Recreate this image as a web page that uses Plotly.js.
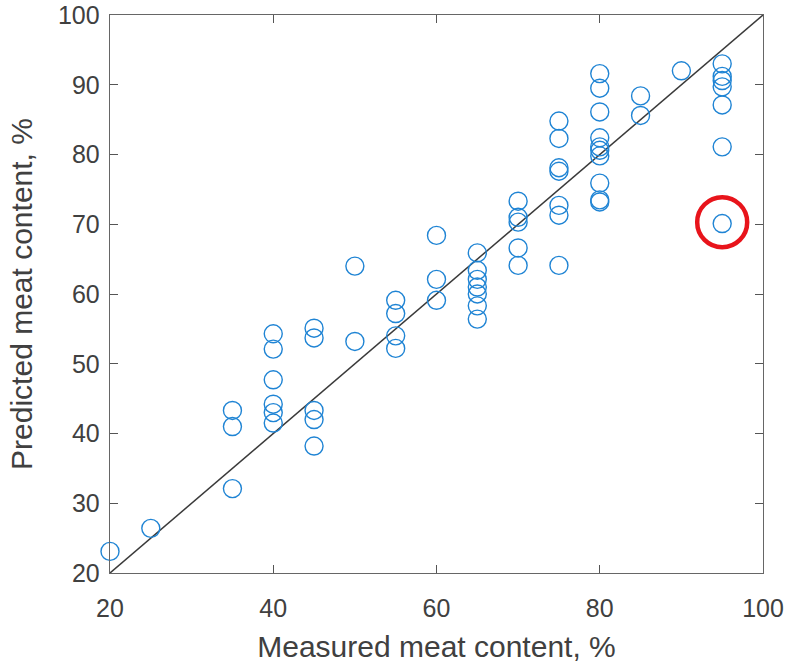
<!DOCTYPE html>
<html>
<head>
<meta charset="utf-8">
<script src="https://cdn.plot.ly/plotly-3.0.1.min.js"></script>
<style>html,body{margin:0;padding:0;background:#fff;}#chart{width:786px;height:663px;}</style>
</head>
<body>
<div id="chart"></div>
<script>
// Measured (x) and predicted (y) meat content, %
const measured = [
  20, 25,
  35, 35, 35,
  40, 40, 40, 40, 40, 40,
  45, 45, 45, 45, 45,
  50, 50,
  55, 55, 55, 55,
  60, 60, 60,
  65, 65, 65, 65, 65, 65, 65,
  70, 70, 70, 70, 70,
  75, 75, 75, 75, 75, 75, 75,
  80, 80, 80, 80, 80, 80, 80, 80, 80, 80,
  85, 85,
  90,
  95, 95, 95, 95, 95, 95, 95
];
const predicted = [
  23.1, 26.4,
  43.3, 41.0, 32.1,
  54.3, 52.1, 47.7, 44.2, 43.0, 41.5,
  55.1, 53.7, 43.3, 42.0, 38.2,
  64.0, 53.2,
  59.1, 57.2, 54.0, 52.2,
  68.4, 62.1, 59.1,
  65.9, 63.4, 62.1, 61.0, 60.0, 58.3, 56.4,
  73.3, 71.0, 70.3, 66.6, 64.1,
  84.8, 82.3, 78.1, 77.6, 72.7, 71.3, 64.1,
  91.6, 89.5, 86.1, 82.4, 81.1, 80.6, 79.8, 75.9, 73.5, 73.2,
  88.4, 85.6,
  92.0,
  93.0, 91.2, 90.6, 89.7, 87.1, 81.1, 70.1
];
// 1:1 reference line
const lineX = [20, 100];
const lineY = [20, 100];
// Highlighted outlier
const outlierX = [95];
const outlierY = [70.3];

const tickVals = [20, 30, 40, 50, 60, 70, 80, 90, 100];
const xTickVals = [20, 40, 60, 80, 100];

const traces = [
  {x: lineX, y: lineY, mode: 'lines', type: 'scatter',
   line: {color: '#3a3a3a', width: 1.5}, hoverinfo: 'skip'},
  {x: measured, y: predicted, mode: 'markers', type: 'scatter', cliponaxis: false,
   marker: {symbol: 'circle-open', size: 18, color: '#1f84d4', line: {width: 1.4, color: '#1f84d4'}}},
  {x: outlierX, y: outlierY, mode: 'markers', type: 'scatter', cliponaxis: false,
   marker: {symbol: 'circle-open', size: 50, color: '#e8141b', line: {width: 4.5, color: '#e8141b'}}}
];

const fontFam = '"Liberation Sans", Arial, sans-serif';
const txtCol = '#404040';
const layout = {
  width: 786, height: 663,
  margin: {l: 110, r: 23, t: 15, b: 90},
  paper_bgcolor: '#ffffff', plot_bgcolor: '#ffffff',
  showlegend: false,
  font: {family: fontFam, color: txtCol, size: 25},
  xaxis: {
    range: [20, 100], tickvals: xTickVals, ticktext: xTickVals.map(String),
    ticks: 'inside', ticklen: 8, tickwidth: 1, tickcolor: '#555',
    ticklabelstandoff: 13,
    showgrid: false, zeroline: false,
    showline: true, linecolor: '#666', linewidth: 1.3, mirror: 'ticks',
    tickfont: {size: 25, color: txtCol, family: fontFam},
    title: {text: 'Measured meat content, %', font: {size: 30, color: txtCol, family: fontFam}, standoff: 16}
  },
  yaxis: {
    range: [20, 100], tickvals: tickVals, ticktext: tickVals.map(String),
    ticks: 'inside', ticklen: 8, tickwidth: 1, tickcolor: '#555',
    ticklabelstandoff: 4,
    showgrid: false, zeroline: false,
    showline: true, linecolor: '#666', linewidth: 1.3, mirror: 'ticks',
    tickfont: {size: 25, color: txtCol, family: fontFam},
    title: {text: 'Predicted meat content, %', font: {size: 30, color: txtCol, family: fontFam}, standoff: 16}
  }
};

Plotly.newPlot('chart', traces, layout, {displayModeBar: false, staticPlot: true});
</script>
</body>
</html>
